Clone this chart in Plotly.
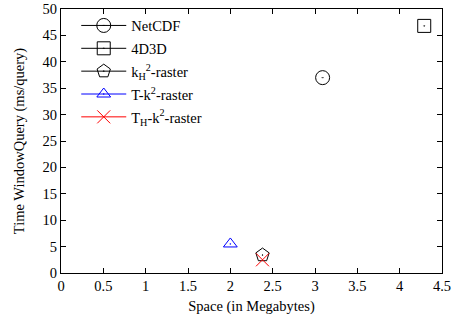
import plotly.graph_objects as go

series_names = ["NetCDF", "4D3D", "k<sub>H</sub><sup>2</sup>-raster",
                "T-k<sup>2</sup>-raster", "T<sub>H</sub>-k<sup>2</sup>-raster"]
space_mb = [3.09, 4.29, 2.38, 2.0, 2.38]
time_ms = [37.0, 46.8, 3.4, 5.5, 2.5]
colors = ["black", "black", "black", "#0000ff", "#ff0000"]
symbols = ["circle-open-dot", "square-open-dot", "pentagon-open-dot",
           "triangle-up-open-dot", "x-thin-open"]
sizes = [14, 13, 14, 12, 13]

x_ticks = [0, 0.5, 1, 1.5, 2, 2.5, 3, 3.5, 4, 4.5]
y_ticks = [0, 5, 10, 15, 20, 25, 30, 35, 40, 45, 50]

FONT = "Liberation Serif"

fig = go.Figure()
for i, (name, x, y, c, s, sz) in enumerate(zip(series_names, space_mb, time_ms, colors, symbols, sizes)):
    fig.add_trace(go.Scatter(
        x=[x], y=[y], name=name, mode="lines+markers", legendgroup=f"g{i}",
        line=dict(color=c, width=1),
        marker=dict(symbol=s, size=sz, color=c, line=dict(color=c, width=1)),
    ))

axis_common = dict(
    showgrid=False, zeroline=False, showline=True, linecolor="black", linewidth=1,
    mirror="ticks", ticks="inside", ticklen=5, tickcolor="black", automargin=False,
    tickfont=dict(family=FONT, size=14.5, color="black"),
)
fig.update_xaxes(range=[0, 4.5], tickvals=x_ticks, ticktext=[f"{v:g}" for v in x_ticks],
                 title=dict(text="Space (in Megabytes)", font=dict(family=FONT, size=14.5, color="black"), standoff=7),
                 **axis_common)
fig.update_yaxes(range=[0, 50], tickvals=y_ticks,
                 title=dict(text="Time WindowQuery (ms/query)", font=dict(family=FONT, size=14.5, color="black"), standoff=14),
                 **axis_common)

fig.update_layout(
    width=454, height=325,
    margin=dict(l=61, r=12, t=9, b=52),
    plot_bgcolor="white", paper_bgcolor="white",
    font=dict(family=FONT, size=14.5, color="black"),
    legend=dict(x=0.04, y=0.998, xanchor="left", yanchor="top",
                bgcolor="rgba(0,0,0,0)", itemwidth=45, tracegroupgap=1,
                font=dict(family=FONT, size=14.5, color="black")),
)

fig.write_html("out.html")
